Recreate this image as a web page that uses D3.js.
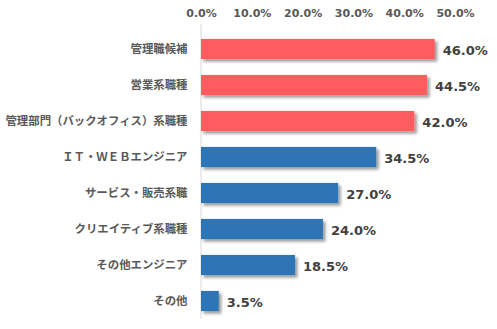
<!DOCTYPE html>
<html><head><meta charset="utf-8">
<script src="https://cdn.jsdelivr.net/npm/d3@7"></script>
<style>
html,body{margin:0;padding:0;background:#fff;}
svg{display:block;}
</style></head>
<body>
<svg id="chart" width="497" height="329"></svg>
<script>
const categories = ["管理職候補","営業系職種","管理部門（バックオフィス）系職種","ＩＴ・ＷＥＢエンジニア","サービス・販売系職","クリエイティブ系職種","その他エンジニア","その他"];
const values = [46.0,44.5,42.0,34.5,27.0,24.0,18.5,3.5];
const highlighted = [true,true,true,false,false,false,false,false];
const tickValues = [0,10,20,30,40,50];

const svg = d3.select("#chart");
const defs = svg.append("defs");
const f = defs.append("filter").attr("id","sh").attr("x","-10%").attr("y","-30%").attr("width","130%").attr("height","180%");
f.append("feDropShadow").attr("dx",2.5).attr("dy",2.5).attr("stdDeviation",1.6).attr("flood-color","#000").attr("flood-opacity",0.4);

const x = d3.scaleLinear().domain([0,50]).range([201,455]);
const y = d3.scaleBand().domain(categories).range([31,319]).paddingInner(0.44).paddingOuter(0.22);

const jp = "'Noto Sans CJK JP','Noto Sans',sans-serif";
const lat = "'DejaVu Sans',Verdana,sans-serif";

// top axis
const xAxis = d3.axisTop(x).tickValues(tickValues).tickFormat(d=>d3.format(".1f")(d)+"%").tickSize(0).tickPadding(0);
const gx = svg.append("g").attr("transform","translate(0,17)").call(xAxis);
gx.select(".domain").remove();
gx.selectAll("text").attr("font-family",lat).attr("font-weight","bold").attr("font-size","11px").attr("fill","#595959");

// vertical axis line
svg.append("line").attr("x1",x(0)).attr("x2",x(0)).attr("y1",24).attr("y2",319).attr("stroke","#d9d9d9").attr("stroke-width",1);

// bars
svg.append("g").selectAll("rect").data(categories).join("rect")
  .attr("x",x(0)).attr("y",d=>y(d))
  .attr("width",(d,i)=>x(values[i])-x(0)).attr("height",y.bandwidth())
  .attr("fill",(d,i)=>highlighted[i]?"#FF5B5F":"#2E75B6")
  .attr("filter","url(#sh)");

// category labels
const yAxis = d3.axisLeft(y).tickSize(0).tickPadding(13.5);
const gy = svg.append("g").attr("transform",`translate(${x(0)},0)`).call(yAxis);
gy.select(".domain").remove();
gy.selectAll("text").attr("font-family",jp).attr("font-weight","bold").attr("font-size","11.4px").attr("fill","#595959");

// value labels
svg.append("g").selectAll("text").data(categories).join("text")
  .attr("x",(d,i)=>x(values[i])+8).attr("y",d=>y(d)+y.bandwidth()/2+1)
  .attr("dy","0.35em")
  .attr("font-family",lat).attr("font-weight","bold").attr("font-size","13px").attr("fill","#404040")
  .text((d,i)=>d3.format(".1f")(values[i])+"%");
</script>
</body></html>
